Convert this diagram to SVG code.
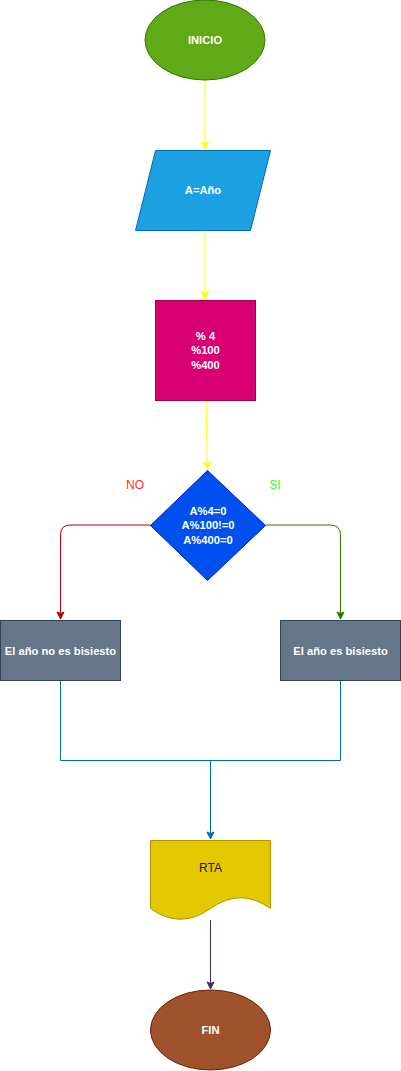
<svg xmlns="http://www.w3.org/2000/svg" width="401" height="1071" viewBox="0 0 401 1071">
<style>
.lbl{font-family:"Liberation Sans",Arial,sans-serif;font-size:11.2px;font-weight:bold;fill:#ffffff;text-anchor:middle}
.dark{font-family:"Liberation Sans",Arial,sans-serif;font-size:12px;fill:#1a1a1a;text-anchor:middle}
.edge{fill:none;stroke-width:1}
</style>
<defs>
<marker id="aY" markerUnits="userSpaceOnUse" markerWidth="10" markerHeight="10" refX="0" refY="0" viewBox="-8 -5 10 10" orient="auto"><path d="M-7,-3.5 L0,0 L-7,3.5 L-5.5,0 z" fill="#ffff00" stroke="#ffff00" stroke-width="1"/></marker>
<marker id="aR" markerUnits="userSpaceOnUse" markerWidth="10" markerHeight="10" refX="0" refY="0" viewBox="-8 -5 10 10" orient="auto"><path d="M-7,-3.5 L0,0 L-7,3.5 L-5.5,0 z" fill="#b20000" stroke="#b20000" stroke-width="1"/></marker>
<marker id="aG" markerUnits="userSpaceOnUse" markerWidth="10" markerHeight="10" refX="0" refY="0" viewBox="-8 -5 10 10" orient="auto"><path d="M-7,-3.5 L0,0 L-7,3.5 L-5.5,0 z" fill="#2d7600" stroke="#2d7600" stroke-width="1"/></marker>
<marker id="aB" markerUnits="userSpaceOnUse" markerWidth="10" markerHeight="10" refX="0" refY="0" viewBox="-8 -5 10 10" orient="auto"><path d="M-7,-3.5 L0,0 L-7,3.5 L-5.5,0 z" fill="#006eaf" stroke="#006eaf" stroke-width="1"/></marker>
<marker id="aP" markerUnits="userSpaceOnUse" markerWidth="10" markerHeight="10" refX="0" refY="0" viewBox="-8 -5 10 10" orient="auto"><path d="M-7,-3.5 L0,0 L-7,3.5 L-5.5,0 z" fill="#432d57" stroke="#432d57" stroke-width="1"/></marker>
</defs>

<g id="connectors">
<path class="edge" stroke="#ffff00" d="M205,80 V149" marker-end="url(#aY)"/>
<path class="edge" stroke="#ffff00" d="M205,230 V299" marker-end="url(#aY)"/>
<path class="edge" stroke="#ffff00" d="M206,400 L207.5,469" marker-end="url(#aY)"/>
<path class="edge" stroke="#b20000" d="M150.5,525 H70 Q60.5,525 60.5,535 V619" marker-end="url(#aR)"/>
<path class="edge" stroke="#2d7600" d="M265.5,525 H330 Q340.5,525 340.5,535 V619" marker-end="url(#aG)"/>
<path class="edge" stroke="#006eaf" d="M60.5,680 V760.5 H340.5 V680"/>
<path class="edge" stroke="#006eaf" d="M210.5,760.5 V839" marker-end="url(#aB)"/>
<path class="edge" stroke="#432d57" d="M210.5,920 V989" marker-end="url(#aP)"/>
</g>

<g id="inicio">
<ellipse cx="205" cy="40" rx="60" ry="40" fill="#60a917" stroke="#2d7600"/>
<text class="lbl" x="205" y="44">INICIO</text>
</g>

<g id="entrada">
<polygon points="155.5,150.5 270.5,150.5 250.5,230.5 135.5,230.5" fill="#1ba1e2" stroke="#006eaf"/>
<text class="lbl" x="203" y="194">A=Año</text>
</g>

<g id="proceso">
<rect x="155.5" y="300.5" width="100" height="100" fill="#d80073" stroke="#a50040"/>
<text class="lbl" x="205.5" y="340">% 4</text>
<text class="lbl" x="205.5" y="354.3">%100</text>
<text class="lbl" x="205.5" y="368.6">%400</text>
</g>

<g id="decision">
<polygon points="207.5,470.5 265.5,525.5 207.5,580.5 150.5,525.5" fill="#0050ef" stroke="#001dbc"/>
<text class="lbl" x="208" y="515">A%4=0</text>
<text class="lbl" x="208" y="529.3">A%100!=0</text>
<text class="lbl" x="208" y="543.6">A%400=0</text>
</g>

<g id="label-no">
<text x="135" y="488.5" style="font-family:'Liberation Sans',Arial,sans-serif;font-size:12px;fill:#ff3333;text-anchor:middle">NO</text>
</g>
<g id="label-si">
<text x="275" y="488.5" style="font-family:'Liberation Sans',Arial,sans-serif;font-size:12px;fill:#33ff33;text-anchor:middle">SI</text>
</g>

<g id="no-bisiesto">
<rect x="0.5" y="620.5" width="120" height="60" fill="#647687" stroke="#314354"/>
<text class="lbl" x="60.5" y="654.5">El año no es bisiesto</text>
</g>

<g id="bisiesto">
<rect x="280.5" y="620.5" width="120" height="60" fill="#647687" stroke="#314354"/>
<text class="lbl" x="340.5" y="654.5">El año es bisiesto</text>
</g>

<g id="rta">
<path d="M150.5,840.5 H270.5 V908.5 Q240.5,887 210.5,908.5 Q180.5,930 150.5,908.5 Z" fill="#e3c800" stroke="#b09500"/>
<text class="dark" x="210.5" y="872">RTA</text>
</g>

<g id="fin">
<ellipse cx="210.5" cy="1030" rx="60" ry="40" fill="#a0522d" stroke="#6d1f00"/>
<text class="lbl" x="210.5" y="1034">FIN</text>
</g>
</svg>
